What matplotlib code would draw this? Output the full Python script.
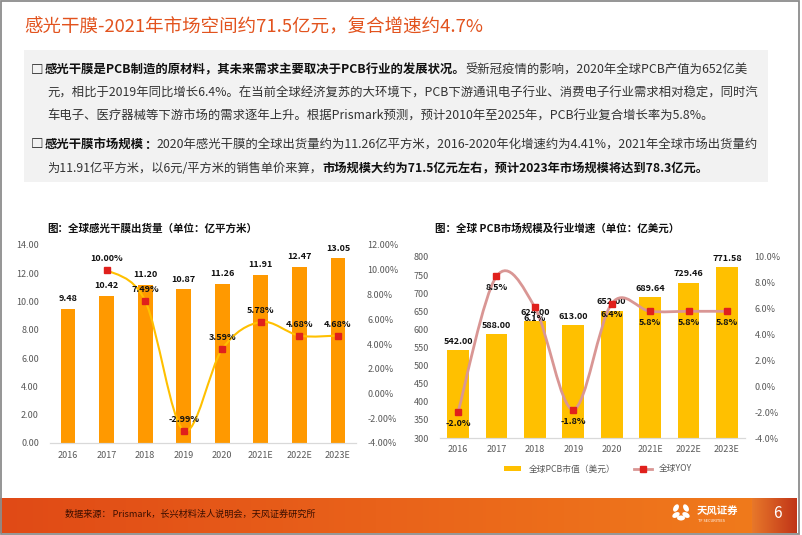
import matplotlib
matplotlib.use("Agg")
import matplotlib.pyplot as plt
import numpy as np
from matplotlib.path import Path
from matplotlib.patches import PathPatch, Rectangle, Ellipse
from matplotlib.lines import Line2D
from matplotlib.ticker import FuncFormatter, MultipleLocator

plt.rcParams["font.family"] = ["Noto Sans CJK SC", "DejaVu Sans"]

W, H = 802, 535

years = ["2016", "2017", "2018", "2019", "2020", "2021E", "2022E", "2023E"]
film_volume = [9.48, 10.42, 11.20, 10.87, 11.26, 11.91, 12.47, 13.05]
film_growth = [None, 10.00, 7.49, -2.99, 3.59, 5.78, 4.68, 4.68]
pcb_value = [542.00, 588.00, 624.00, 613.00, 652.00, 689.64, 729.46, 771.58]
pcb_yoy = [-2.0, 8.5, 6.1, -1.8, 6.4, 5.8, 5.8, 5.8]

title = "感光干膜-2021年市场空间约71.5亿元，复合增速约4.7%"
para1 = [
    [("感光干膜是PCB制造的原材料，其未来需求主要取决于PCB行业的发展状况。", True),
     ("受新冠疫情的影响，2020年全球PCB产值为652亿美", False)],
    [("元，相比于2019年同比增长6.4%。在当前全球经济复苏的大环境下，PCB下游通讯电子行业、消费电子行业需求相对稳定，同时汽", False)],
    [("车电子、医疗器械等下游市场的需求逐年上升。根据Prismark预测，预计2010年至2025年，PCB行业复合增长率为5.8%。", False)],
]
para2 = [
    [("感光干膜市场规模", True), ("：", True),
     ("2020年感光干膜的全球出货量约为11.26亿平方米，2016-2020年化增速约为4.41%，2021年全球市场出货量约", False)],
    [("为11.91亿平方米，以6元/平方米的销售单价来算，", False),
     ("市场规模大约为71.5亿元左右，预计2023年市场规模将达到78.3亿元。", True)],
]
source = "数据来源： Prismark，长兴材料法人说明会，天风证券研究所"


def fx(x):
    return x / W


def fy(y):
    return 1 - y / H


def smooth_path(xs, ys):
    pts = np.column_stack([xs, ys]).astype(float)
    verts = [pts[0]]
    codes = [Path.MOVETO]
    n = len(pts)
    for i in range(n - 1):
        p0 = pts[i - 1] if i > 0 else pts[i]
        p1, p2 = pts[i], pts[i + 1]
        p3 = pts[i + 2] if i + 2 < n else pts[i + 1]
        verts += [p1 + (p2 - p0) / 6, p2 - (p3 - p1) / 6, p2]
        codes += [Path.CURVE4] * 3
    return Path(verts, codes)


fig = plt.figure(figsize=(8.02, 5.35), dpi=100)
renderer = fig.canvas.get_renderer()

# slide background in pixel coordinates
bg = fig.add_axes([0, 0, 1, 1])
bg.set_xlim(0, W)
bg.set_ylim(H, 0)
bg.axis("off")

bg.add_patch(Rectangle((24, 50), 744, 132, fc="#F2F2F2", ec="none"))

# footer band
def hex2rgb(h):
    return np.array([int(h[i:i + 2], 16) for i in (1, 3, 5)]) / 255

grad_x = np.linspace(0, 1, 300)
c_left, c_mid, c_right = hex2rgb("#E04A16"), hex2rgb("#E9621A"), hex2rgb("#F07A1C")
band = np.array([c_left + (c_mid - c_left) * t * 2 if t < 0.5 else c_mid + (c_right - c_mid) * (t - 0.5) * 2
                 for t in grad_x])
bg.imshow(band[None, :, :], extent=(0, 752, 533, 498), aspect="auto")
blk = np.array([hex2rgb("#E8782A") + (hex2rgb("#C03418") - hex2rgb("#E8782A")) * t for t in grad_x])
bg.imshow(blk[None, :, :], extent=(752, 797, 533, 498), aspect="auto")
bg.set_xlim(0, W)
bg.set_ylim(H, 0)

bg.add_patch(Rectangle((0.7, 0.7), 798.6, 533, fill=False, ec="#8C8C8C", lw=1.3))

bg.text(24, 27, title, fontsize=13.3, color="#E2531E", va="center", ha="left")


def rich(x, y, parts, size=8.9, right=None):
    # optionally shrink the line so that it ends at `right`
    if right is not None:
        total = 0
        for s, bold in parts:
            t = bg.text(0, 0, s, fontsize=size, fontweight="bold" if bold else "normal")
            total += t.get_window_extent(renderer).width
            t.remove()
        size = min(size, size * (right - x) / total)
    for s, bold in parts:
        t = bg.text(x, y, s, fontsize=size, fontweight="bold" if bold else "normal",
                    color="#111111" if bold else "#333333", va="center", ha="left")
        x += t.get_window_extent(renderer).width


bg.text(31, 70, "□", fontsize=9, fontweight="bold", color="#111111", va="center")
rich(45, 70, para1[0], right=757)
rich(47, 93, para1[1], right=757)
rich(47, 116, para1[2])

bg.text(31, 145, "□", fontsize=9, fontweight="bold", color="#111111", va="center")
rich(45, 145, para2[0], right=757)
rich(47, 169, para2[1], right=708)

# footer texts
bg.text(65, 514, source, fontsize=6.6, color="#3A0E00", va="center")
for ang, (dx, dy) in zip([30, -30, 90, 60, -60], [(-5, -4), (5, -4), (0, 6), (-5, 3), (5, 3)]):
    bg.add_patch(Ellipse((681 + dx, 512 + dy), 5, 8, angle=ang, fc="white", ec="none"))
bg.text(697, 511, "天风证券", fontsize=7.5, fontweight="bold", color="white", va="center")
bg.text(698, 521, "TF SECURITIES", fontsize=2.8, color="white", va="center")
bg.text(777, 513, "6", fontsize=11, color="white", va="center", ha="center")

x = np.arange(len(years))
tick_color = "#595959"
red = "#E0201C"

# left chart
bg.text(47, 229, "图：全球感光干膜出货量（单位：亿平方米）", fontsize=7.6, fontweight="bold",
        color="#111111", va="center")
ax1 = fig.add_axes([fx(50), fy(443), (356 - 50) / W, (443 - 245) / H])
ax1.bar(x, film_volume, width=0.38, color="#FF9900", zorder=2)
ax1.set_xlim(-0.47, 7.47)
ax1.set_ylim(0, 14)
ax1.yaxis.set_major_locator(MultipleLocator(2))
ax1.yaxis.set_major_formatter(FuncFormatter(lambda v, p: f"{v:.2f}"))
ax1.set_xticks(x)
ax1.set_xticklabels(years)
for i, v in enumerate(film_volume):
    ax1.annotate(f"{v:.2f}", (i, v), xytext=(0, 4), textcoords="offset points",
                 ha="center", va="bottom", fontsize=6.5, fontweight="bold", color="#111111")
ax1b = ax1.twinx()
ax1b.set_ylim(-4, 12)
ax1b.yaxis.set_major_locator(MultipleLocator(2))
ax1b.yaxis.set_major_formatter(FuncFormatter(lambda v, p: f"{v:.2f}%"))
gx = [i for i, g in enumerate(film_growth) if g is not None]
gy = [g for g in film_growth if g is not None]
ax1b.add_patch(PathPatch(smooth_path(gx, gy), fill=False, ec="#FFC000", lw=1.5, zorder=3))
ax1b.plot(gx, gy, ls="none", marker="s", ms=5, color=red, zorder=4)
for i, g in zip(gx, gy):
    ax1b.annotate(f"{g:.2f}%", (i, g), xytext=(0, 5), textcoords="offset points",
                  ha="center", va="bottom", fontsize=6.5, fontweight="bold", color="#111111")

# right chart
bg.text(435, 228, "图：全球 PCB市场规模及行业增速（单位：亿美元）", fontsize=7.6, fontweight="bold",
        color="#111111", va="center")
ax2 = fig.add_axes([fx(440), fy(438), (745 - 440) / W, (438 - 257) / H])
ax2.bar(x, pcb_value, width=0.57, color="#FFC000", zorder=2)
ax2.set_xlim(-0.47, 7.47)
ax2.set_ylim(300, 800)
ax2.yaxis.set_major_locator(MultipleLocator(50))
ax2.set_xticks(x)
ax2.set_xticklabels(years)
for i, v in enumerate(pcb_value):
    ax2.annotate(f"{v:.2f}", (i, v), xytext=(0, 3), textcoords="offset points",
                 ha="center", va="bottom", fontsize=6.5, fontweight="bold", color="#111111")
ax2b = ax2.twinx()
ax2b.set_ylim(-4, 10)
ax2b.yaxis.set_major_locator(MultipleLocator(2))
ax2b.yaxis.set_major_formatter(FuncFormatter(lambda v, p: f"{v:.1f}%"))
ax2b.add_patch(PathPatch(smooth_path(x, pcb_yoy), fill=False, ec="#D99694", lw=2, zorder=3))
ax2b.plot(x, pcb_yoy, ls="none", marker="s", ms=5, color=red, zorder=4)
for i, g in enumerate(pcb_yoy):
    ax2b.annotate(f"{g:.1f}%", (i, g), xytext=(0, -5), textcoords="offset points",
                  ha="center", va="top", fontsize=6.5, fontweight="bold", color="#111111")

for ax in (ax1, ax1b, ax2, ax2b):
    ax.set_facecolor("none")
    for side in ("top", "left", "right"):
        ax.spines[side].set_visible(False)
    ax.spines["bottom"].set_color("#D9D9D9")
    ax.tick_params(length=0, labelsize=6.5, colors=tick_color)
ax1.tick_params(axis="y", pad=8)
ax1.tick_params(axis="x", pad=6)
ax1b.tick_params(axis="y", pad=8)
ax2.tick_params(axis="y", pad=8)
ax2.tick_params(axis="x", pad=5)
ax2b.tick_params(axis="y", pad=7)

handles = [Rectangle((0, 0), 1, 1, fc="#FFC000", ec="none"),
           Line2D([], [], color="#D99694", lw=2, marker="s", ms=4, mfc=red, mec=red)]
ax2.legend(handles, ["全球PCB市值（美元）", "全球YOY"], loc="center", bbox_to_anchor=(fx(598), fy(469)),
           bbox_transform=fig.transFigure, ncol=2, frameon=False, fontsize=6.3,
           labelcolor=tick_color, handlelength=2.0, handleheight=0.6, columnspacing=2.2)

fig.savefig("out.png", dpi=100)
